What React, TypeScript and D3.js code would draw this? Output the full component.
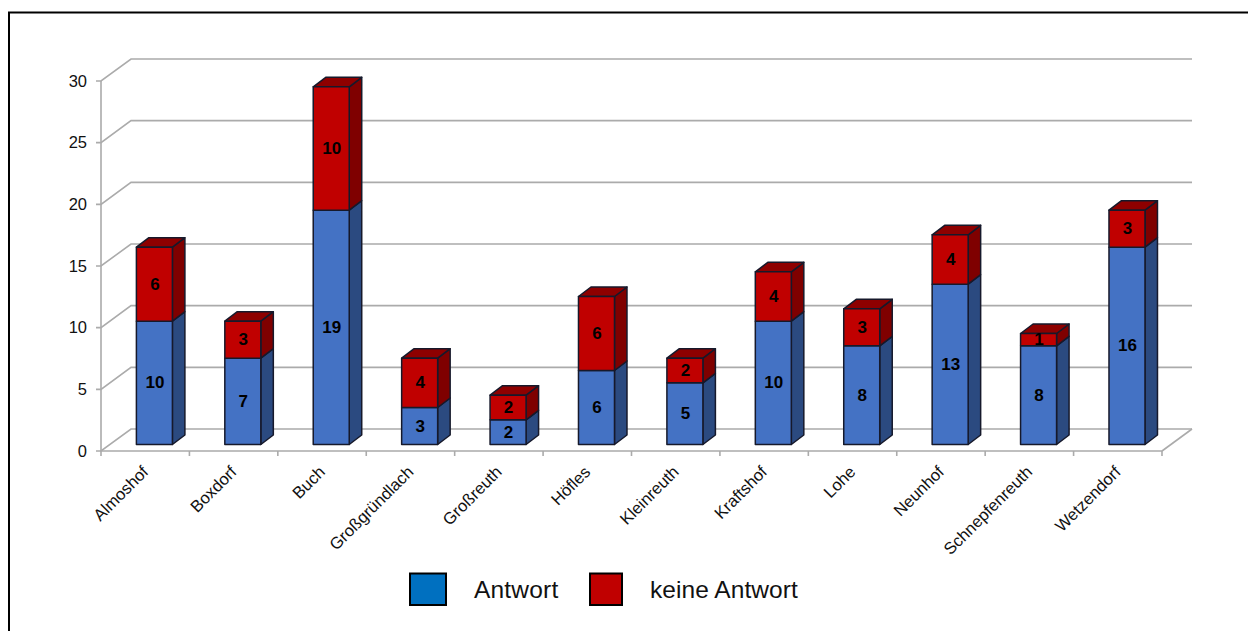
import React from "react";
import * as d3 from "d3";

const categories = ["Almoshof","Boxdorf","Buch","Großgründlach","Großreuth","Höfles","Kleinreuth","Kraftshof","Lohe","Neunhof","Schnepfenreuth","Wetzendorf"];
const antwort = [10,7,19,3,2,6,5,10,8,13,8,16];
const keineAntwort = [6,3,10,4,2,6,2,4,3,4,1,3];
const yTicks = [0,5,10,15,20,25,30];
const legendLabels = ["Antwort","keine Antwort"];

const FONT = "'Liberation Sans', Arial, sans-serif";
const GRID = "#ababab";
const DX = 30, DY = 22;
const BAR_DX = 12.5, BAR_DY = 9.5;
const BAR_W = 36;
const BAR_BASE = 444.5;

const x = d3.scaleBand<string>().domain(categories).range([101, 1162]).paddingInner(0).paddingOuter(0);
const y = d3.scaleLinear().domain([0, 30]).range([451, 81]);
const h = (v: number) => y(0) - y(v);

function Prism({ x0, top, bottom, front, side, roof }: { x0: number; top: number; bottom: number; front: string; side: string; roof?: string }) {
  const x1 = x0 + BAR_W;
  const stroke = "#16192b";
  return (
    <g stroke={stroke} strokeWidth={1.5} strokeLinejoin="round">
      <path d={`M${x1},${bottom}L${x1 + BAR_DX},${bottom - BAR_DY}L${x1 + BAR_DX},${top - BAR_DY}L${x1},${top}Z`} fill={side} />
      {roof && <path d={`M${x0},${top}L${x0 + BAR_DX},${top - BAR_DY}L${x1 + BAR_DX},${top - BAR_DY}L${x1},${top}Z`} fill={roof} />}
      <rect x={x0} y={top} width={BAR_W} height={bottom - top} fill={front} />
    </g>
  );
}

export default function App() {
  const bw = x.bandwidth();
  return (
    <svg width={1248} height={631} viewBox="0 0 1248 631" style={{ position: "absolute", left: 0, top: 0, display: "block" }} fontFamily={FONT}>
      <rect width={1248} height={631} fill="#fff" />
      <path d="M9,631V12.5H1248" fill="none" stroke="#000" strokeWidth={2} />

      <g fill="none" stroke={GRID} strokeWidth={1.6}>
        <path d={`M101,${y(30)}V${y(0)}H1162`} />
        <path d={`M1162,${y(0)}L${1162 + DX},${y(0) - DY}`} />
        {yTicks.map((t) => (
          <path key={t} d={`M96,${y(t)}H101L${101 + DX},${y(t) - DY}H${1162 + DX}`} />
        ))}
        {d3.range(categories.length + 1).map((i) => {
          const tx = 101 + i * bw;
          return <path key={i} d={`M${tx},${y(0)}V${y(0) + 5}`} />;
        })}
      </g>

      {yTicks.map((t) => (
        <text key={t} x={87} y={y(t) + 5.5} textAnchor="end" fontSize={16.5} fill="#111">{t}</text>
      ))}

      {categories.map((c, i) => {
        const x0 = (x(c) as number) + 35.4;
        const a = antwort[i];
        const k = keineAntwort[i];
        const blueTop = BAR_BASE - h(a);
        const redTop = BAR_BASE - h(a + k);
        return (
          <g key={c}>
            <Prism x0={x0} top={blueTop} bottom={BAR_BASE} front="#4472c4" side="#2b4a80" />
            <Prism x0={x0} top={redTop} bottom={blueTop} front="#c00000" side="#7f0000" roof="#8e0000" />
            <g fontSize={17} fontWeight="bold" fill="#000" textAnchor="middle">
              <text x={x0 + BAR_W / 2 + 0.5} y={(blueTop + BAR_BASE) / 2 + 5.5}>{a}</text>
              <text x={x0 + BAR_W / 2 + 0.5} y={(redTop + blueTop) / 2 + 5.5}>{k}</text>
            </g>
          </g>
        );
      })}

      {categories.map((c) => {
        const cx = (x(c) as number) + bw / 2;
        return (
          <text key={c} transform={`translate(${cx + 4},${473}) rotate(-45)`} textAnchor="end" fontSize={16.6} fill="#111">{c}</text>
        );
      })}

      <g>
        <rect x={410} y={573.5} width={36} height={31.5} fill="#0070c0" stroke="#000" strokeWidth={2} />
        <rect x={590} y={573.5} width={32} height={31.5} fill="#c00000" stroke="#000" strokeWidth={2} />
        <text x={474} y={598} fontSize={24.5} fill="#111" letterSpacing={0.2}>{legendLabels[0]}</text>
        <text x={650} y={598} fontSize={24.5} fill="#111" letterSpacing={0.05}>{legendLabels[1]}</text>
      </g>
    </svg>
  );
}
